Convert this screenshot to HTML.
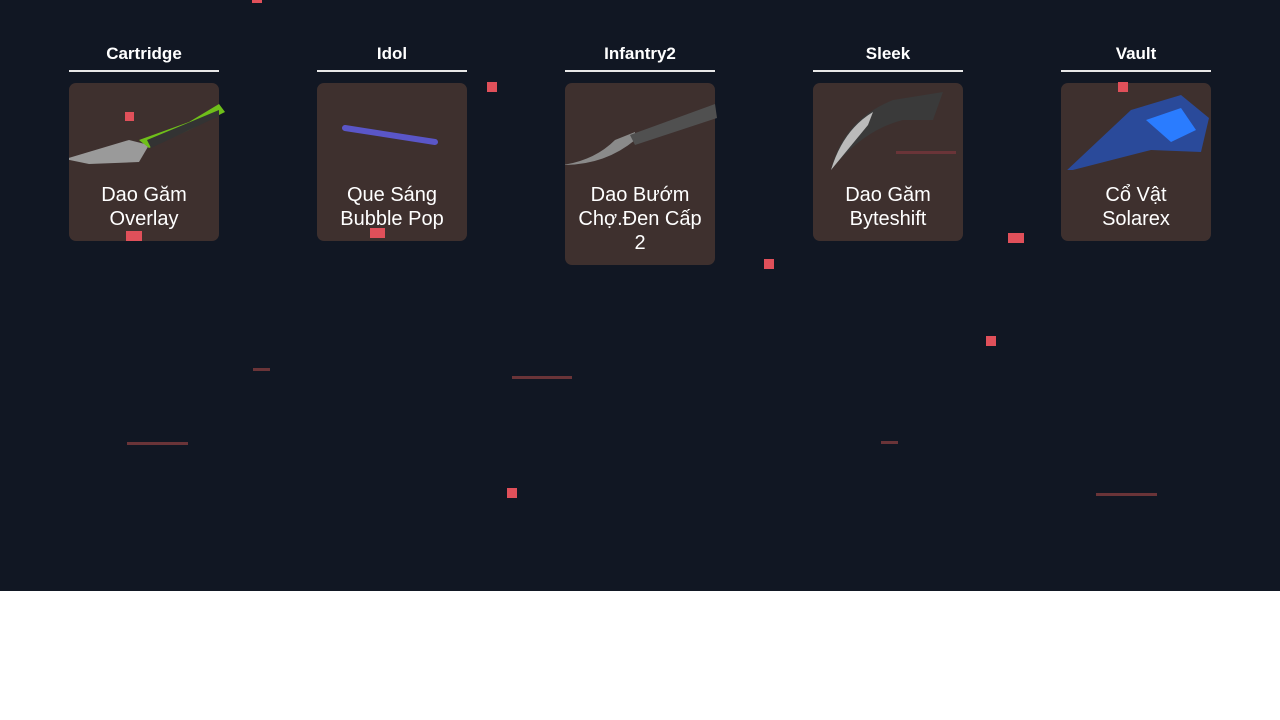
<!DOCTYPE html>
<html><head><meta charset="utf-8"><style>
body{margin:0;width:1280px;height:720px;background:#fff;font-family:"Liberation Sans",sans-serif;overflow:hidden}
.bg{position:absolute;left:0;top:0;width:1280px;height:591px;background:#111723}
.col{position:absolute;top:0;width:150px}
.t{position:absolute;top:44px;width:150px;text-align:center;color:#fff;font-weight:bold;font-size:17px}
.u{position:absolute;top:70px;width:150px;height:2px;background:#e8e8e8}
.c{position:absolute;top:83px;width:150px;height:158px;background:#3e302e;border-radius:7px}
.n{position:absolute;top:183px;width:150px;text-align:center;color:#fff;font-size:20px;line-height:24px}
.r{position:absolute;background:#e0505a}
.l{position:absolute;height:3px;background:#6a3438}
.d{position:absolute;width:3px;height:3px;background:#2a2f3c}
svg{position:absolute;left:0;top:0}
</style></head><body>
<div class="bg"></div>
<div class="col" style="left:69px"><div class="t">Cartridge</div><div class="u"></div><div class="c"></div>
<svg width="160" height="170"><polygon points="-4,159 60,140 80,145 70,162 20,164" fill="#9a9a9a"/><polygon points="70,140 120,122 150,104 156,112 120,130 80,148" fill="#6fbf1a"/><polygon points="78,140 150,110 150,116 82,148" fill="#333"/></svg>
<div class="n">Dao Găm<br>Overlay</div></div>
<div class="col" style="left:317px"><div class="t">Idol</div><div class="u"></div><div class="c"></div>
<svg width="150" height="170"><line x1="28" y1="128" x2="118" y2="142" stroke="#5a56c8" stroke-width="6" stroke-linecap="round"/></svg>
<div class="n">Que Sáng<br>Bubble Pop</div></div>
<div class="col" style="left:565px"><div class="t">Infantry2</div><div class="u"></div><div class="c" style="height:182px"></div>
<svg width="160" height="170"><path d="M-2,165 Q30,160 50,140 L70,132 L70,140 Q40,165 -2,165Z" fill="#8a8a8a"/><path d="M65,135 L150,104 L152,118 L70,145Z" fill="#505050"/></svg>
<div class="n">Dao Bướm<br>Chợ.Đen Cấp<br>2</div></div>
<div class="col" style="left:813px"><div class="t">Sleek</div><div class="u"></div><div class="c"></div>
<svg width="150" height="170"><path d="M18,170 Q30,120 80,100 L130,92 L120,120 L90,120 Q50,130 18,170Z" fill="#3a3a3a"/><path d="M18,170 Q30,130 60,112 L55,125Z" fill="#bbb"/></svg>
<div class="n">Dao Găm<br>Byteshift</div></div>
<div class="col" style="left:1061px"><div class="t">Vault</div><div class="u"></div><div class="c"></div>
<svg width="160" height="170"><polygon points="4,172 70,110 120,95 148,118 140,152 90,150" fill="#2a4a9a"/><polygon points="85,120 120,108 135,130 110,142" fill="#2a7cff"/></svg>
<div class="n">Cổ Vật<br>Solarex</div></div>
<div class="r" style="left:487px;top:82px;width:10px;height:10px"></div>
<div class="r" style="left:764px;top:259px;width:10px;height:10px"></div>
<div class="r" style="left:986px;top:336px;width:10px;height:10px"></div>
<div class="r" style="left:507px;top:488px;width:10px;height:10px"></div>
<div class="r" style="left:1118px;top:82px;width:10px;height:10px"></div>
<div class="r" style="left:125px;top:112px;width:9px;height:9px"></div>
<div class="r" style="left:126px;top:231px;width:16px;height:10px"></div>
<div class="r" style="left:370px;top:228px;width:15px;height:10px"></div>
<div class="r" style="left:1008px;top:233px;width:16px;height:10px"></div>
<div class="r" style="left:252px;top:0;width:10px;height:3px"></div>
<div class="l" style="left:253px;top:368px;width:17px"></div>
<div class="l" style="left:512px;top:376px;width:60px"></div>
<div class="l" style="left:127px;top:442px;width:61px"></div>
<div class="l" style="left:881px;top:441px;width:17px"></div>
<div class="l" style="left:1096px;top:493px;width:61px"></div>
<div class="l" style="left:896px;top:151px;width:60px"></div>
</body></html>
